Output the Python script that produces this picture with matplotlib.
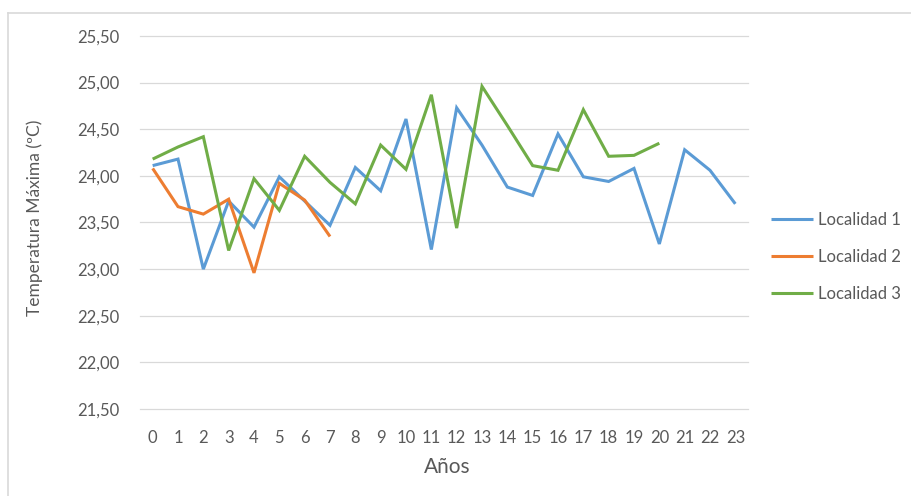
import matplotlib
matplotlib.use("Agg")
import matplotlib.pyplot as plt
from matplotlib.lines import Line2D

plt.rcParams['font.family'] = ['Lato', 'DejaVu Sans']

years = list(range(24))
loc1 = [24.11, 24.18, 23.00, 23.73, 23.45, 23.99, 23.73, 23.47, 24.09, 23.84,
        24.61, 23.21, 24.73, 24.33, 23.88, 23.79, 24.45, 23.99, 23.94, 24.08,
        23.27, 24.28, 24.06, 23.70]
loc2 = [24.08, 23.67, 23.59, 23.75, 22.96, 23.92, 23.74, 23.35]
loc3 = [24.18, 24.31, 24.42, 23.20, 23.97, 23.63, 24.21, 23.93, 23.70, 24.33,
        24.07, 24.87, 23.44, 24.96, 24.54, 24.11, 24.06, 24.71, 24.21, 24.22,
        24.35]
series_names = ["Localidad 1", "Localidad 2", "Localidad 3"]
colors = ["#5B9BD5", "#ED7D31", "#70AD47"]
yticks = [21.5, 22.0, 22.5, 23.0, 23.5, 24.0, 24.5, 25.0, 25.5]
xlabel = "Años"
ylabel = "Temperatura Máxima (ºC)"

txt = "#595959"
fig = plt.figure(figsize=(9.12, 4.96), dpi=100)
ax = fig.add_axes([140/912, 1-409/496, 608/912, 373/496])

handles = []
for vals, c, name in zip([loc1, loc2, loc3], colors, series_names):
    h, = ax.plot(years[:len(vals)], vals, color=c, lw=2.2, label=name,
                 solid_joinstyle='miter', solid_capstyle='butt')
    handles.append(h)

ax.set_xlim(-0.5, 23.5)
ax.set_ylim(21.5, 25.5)
ax.set_yticks(yticks)
ax.set_yticklabels([f"{v:.2f}".replace('.', ',') for v in yticks])
ax.set_xticks(years)
ax.set_xticklabels([str(y) for y in years])
ax.tick_params(length=0, labelsize=12, colors=txt, pad=15)
ax.grid(axis='y', color='#D9D9D9', lw=0.9)
for gl in ax.get_ygridlines():
    gl.set_clip_on(False)
ax.set_axisbelow(True)
for s in ax.spines.values():
    s.set_visible(False)

fig.text(447/912, 1-467/496, xlabel, ha='center', va='center', fontsize=15, color=txt)
fig.text(35/912, 1-218/496, ylabel, ha='center', va='center', rotation=90,
         fontsize=12.5, color=txt)

fig.legend(handles=handles, labels=series_names, loc='center left',
           bbox_to_anchor=(756/912, 1-257/496), frameon=False, fontsize=12,
           handlelength=2.5, handletextpad=0.3, labelspacing=1.27,
           labelcolor=txt)

fig.add_artist(Line2D([8.5/912, 1], [1-12.7/496, 1-12.7/496], color='#D9D9D9', lw=1.2))
fig.add_artist(Line2D([8.5/912, 8.5/912], [0, 1-12.7/496], color='#D9D9D9', lw=1.2))

fig.savefig("out.png", dpi=100)
